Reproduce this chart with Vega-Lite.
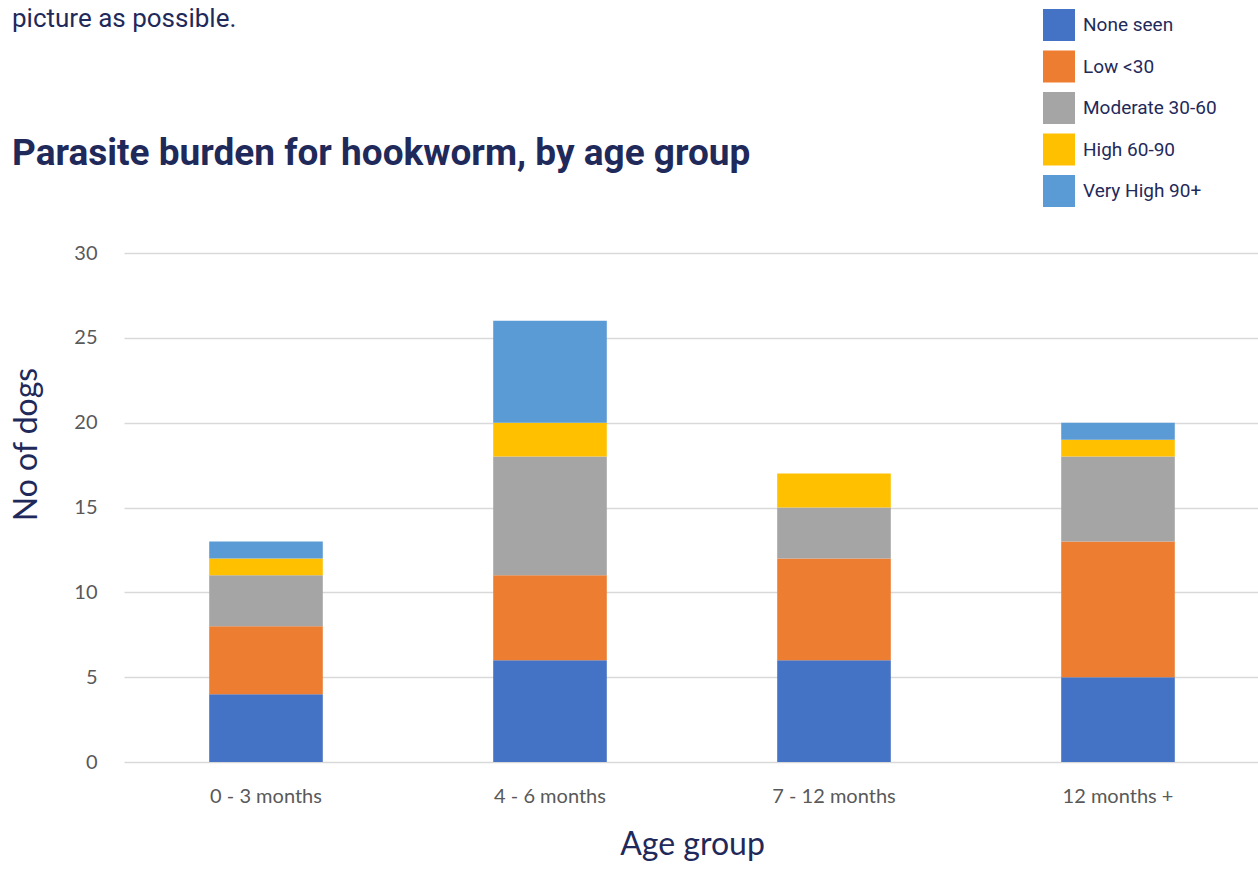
{
  "$schema": "https://vega.github.io/schema/vega-lite/v6.json",
  "width": 1136,
  "height": 509,
  "autosize": {"type": "none"},
  "padding": {"left": 124, "top": 253, "right": 0, "bottom": 107},
  "background": "white",
  "title": {
    "text": "picture as possible.",
    "subtitle": "Parasite burden for hookworm, by age group",
    "anchor": "start",
    "frame": "group",
    "dx": -112,
    "dy": 163,
    "font": "Roboto",
    "fontSize": 26,
    "fontWeight": "normal",
    "color": "#1f2a5a",
    "subtitleFont": "Roboto",
    "subtitleFontSize": 37,
    "subtitleFontWeight": "bold",
    "subtitleColor": "#1f2a5a",
    "subtitlePadding": 104,
    "offset": 0
  },
  "data": {
    "values": [
      {"age": "0 - 3 months", "burden": "None seen", "k": 1, "dogs": 4},
      {"age": "0 - 3 months", "burden": "Low <30", "k": 2, "dogs": 4},
      {"age": "0 - 3 months", "burden": "Moderate 30-60", "k": 3, "dogs": 3},
      {"age": "0 - 3 months", "burden": "High 60-90", "k": 4, "dogs": 1},
      {"age": "0 - 3 months", "burden": "Very High 90+", "k": 5, "dogs": 1},
      {"age": "4 - 6 months", "burden": "None seen", "k": 1, "dogs": 6},
      {"age": "4 - 6 months", "burden": "Low <30", "k": 2, "dogs": 5},
      {"age": "4 - 6 months", "burden": "Moderate 30-60", "k": 3, "dogs": 7},
      {"age": "4 - 6 months", "burden": "High 60-90", "k": 4, "dogs": 2},
      {"age": "4 - 6 months", "burden": "Very High 90+", "k": 5, "dogs": 6},
      {"age": "7 - 12 months", "burden": "None seen", "k": 1, "dogs": 6},
      {"age": "7 - 12 months", "burden": "Low <30", "k": 2, "dogs": 6},
      {"age": "7 - 12 months", "burden": "Moderate 30-60", "k": 3, "dogs": 3},
      {"age": "7 - 12 months", "burden": "High 60-90", "k": 4, "dogs": 2},
      {"age": "7 - 12 months", "burden": "Very High 90+", "k": 5, "dogs": 0},
      {"age": "12 months +", "burden": "None seen", "k": 1, "dogs": 5},
      {"age": "12 months +", "burden": "Low <30", "k": 2, "dogs": 8},
      {"age": "12 months +", "burden": "Moderate 30-60", "k": 3, "dogs": 5},
      {"age": "12 months +", "burden": "High 60-90", "k": 4, "dogs": 1},
      {"age": "12 months +", "burden": "Very High 90+", "k": 5, "dogs": 1}
    ]
  },
  "mark": {"type": "bar"},
  "encoding": {
    "x": {
      "field": "age",
      "type": "nominal",
      "sort": ["0 - 3 months", "4 - 6 months", "7 - 12 months", "12 months +"],
      "scale": {"paddingInner": 0.6, "paddingOuter": 0.3},
      "axis": {
        "title": "Age group",
        "labelAngle": 0,
        "labelFont": "Lato",
        "labelFontSize": 20,
        "labelColor": "#595959",
        "labelPadding": 24,
        "ticks": false,
        "domain": false,
        "titleFont": "Lato",
        "titleFontSize": 32,
        "titleFontWeight": "normal",
        "titleColor": "#1f2a5a",
        "titlePadding": 23
      }
    },
    "y": {
      "field": "dogs",
      "type": "quantitative",
      "stack": "zero",
      "scale": {"domain": [0, 30], "nice": false},
      "axis": {
        "title": "No of dogs",
        "values": [0, 5, 10, 15, 20, 25, 30],
        "labelFont": "Lato",
        "labelFontSize": 20,
        "labelColor": "#595959",
        "labelPadding": 27,
        "ticks": false,
        "domain": false,
        "gridColor": "#d9d9d9",
        "gridWidth": 1.5,
        "titleFont": "Lato",
        "titleFontSize": 32,
        "titleFontWeight": "normal",
        "titleColor": "#1f2a5a",
        "titlePadding": 30,
        "titleY": 191
      }
    },
    "color": {
      "field": "burden",
      "type": "nominal",
      "scale": {
        "domain": ["None seen", "Low <30", "Moderate 30-60", "High 60-90", "Very High 90+"],
        "range": ["#4472C4", "#ED7D31", "#A5A5A5", "#FFC000", "#5B9BD5"]
      },
      "legend": {
        "title": null,
        "orient": "none",
        "legendX": 919,
        "legendY": -244,
        "symbolType": "square",
        "symbolSize": 1024,
        "symbolStrokeWidth": 0,
        "symbolOpacity": 1,
        "labelFont": "Roboto",
        "labelFontSize": 19,
        "labelColor": "#1f2a5a",
        "labelOffset": 8,
        "rowPadding": 9.5
      }
    },
    "order": {"field": "k", "type": "quantitative"}
  },
  "config": {"view": {"stroke": null}}
}
